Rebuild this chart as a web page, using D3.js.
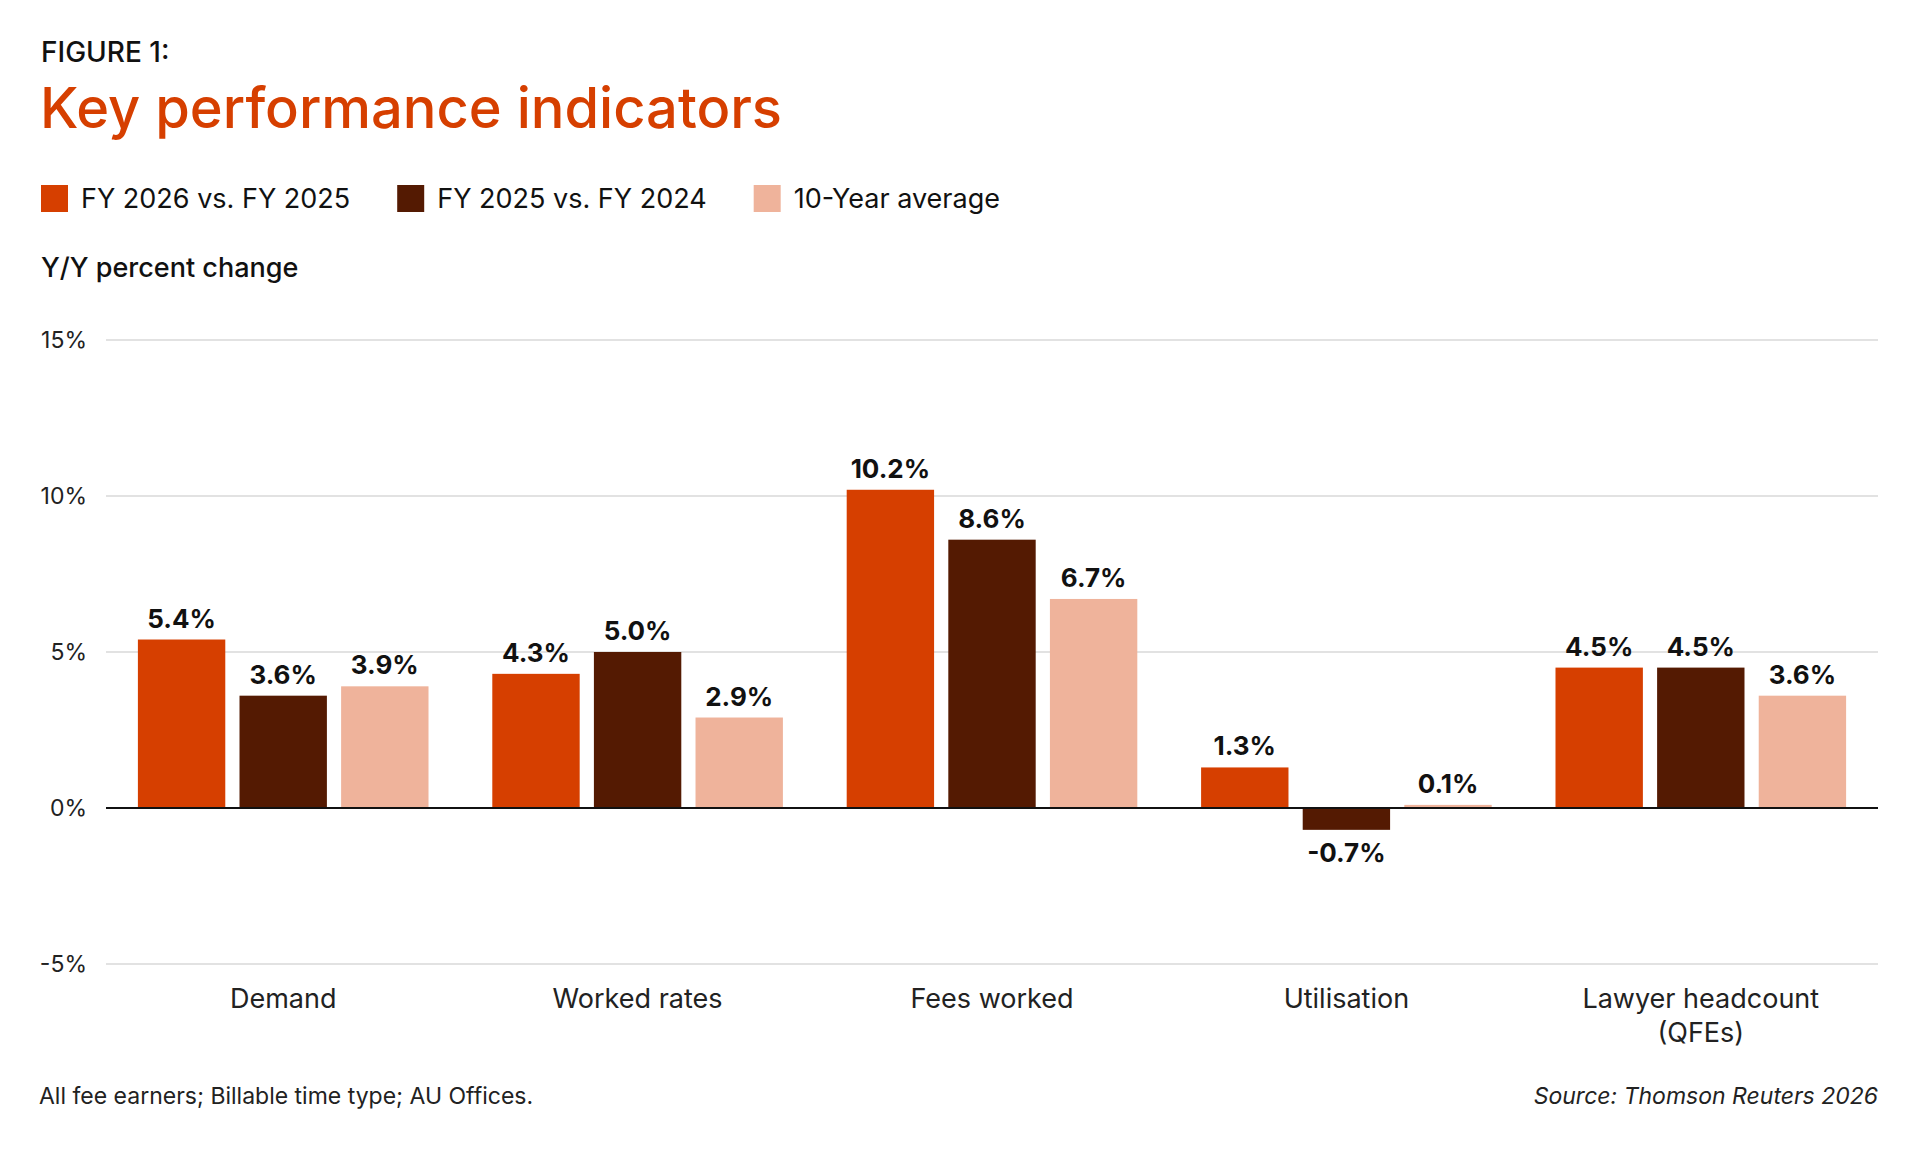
<!DOCTYPE html>
<html><head><meta charset="utf-8">
<script src="https://cdn.jsdelivr.net/npm/d3@7"></script>
<style>body{margin:0;background:#fff;font-family:Inter,"Noto Sans",sans-serif;}</style>
</head><body><svg id="svg" width="1920" height="1150"></svg>
<script>
const categories = ['Demand', 'Worked rates', 'Fees worked', 'Utilisation', 'Lawyer headcount|(QFEs)'];
const seriesNames = ['FY 2026 vs. FY 2025', 'FY 2025 vs. FY 2024', '10-Year average'];
const fy26 = [5.4, 4.3, 10.2, 1.3, 4.5];
const fy25 = [3.6, 5.0, 8.6, -0.7, 4.5];
const avg10 = [3.9, 2.9, 6.7, 0.1, 3.6];
const yTicks = [-5, 0, 5, 10, 15];
const colors = ['#d63f00', '#541a02', '#efb39b'];

const series = [fy26, fy25, avg10];
const svg = d3.select('#svg');
const plotLeft = 106, plotRight = 1878, plotTop = 340, plotBottom = 964;

svg.append('text').attr('x', 41).attr('y', 62).attr('font-size', 28).attr('font-weight', 500).attr('fill', '#111').text('FIGURE 1:');
svg.append('text').attr('x', 40).attr('y', 128).attr('font-size', 56).attr('font-weight', 500).attr('fill', '#d63f00').text('Key performance indicators');

const leg = svg.append('g');
let lx = 41;
seriesNames.forEach((s, i) => {
  leg.append('rect').attr('x', lx).attr('y', 185).attr('width', 27).attr('height', 27).attr('fill', colors[i]);
  const t = leg.append('text').attr('x', lx + 40).attr('y', 208).attr('font-size', 27).attr('fill', '#111').text(s);
  lx += 40 + t.node().getComputedTextLength() + 47;
});
svg.append('text').attr('x', 41).attr('y', 277).attr('font-size', 27).attr('font-weight', 500).attr('fill', '#111').text('Y/Y percent change');

const y = d3.scaleLinear().domain([-5, 15]).range([plotBottom, plotTop]);
const x0 = d3.scaleBand().domain(categories).range([plotLeft, plotRight]).paddingInner(0.18).paddingOuter(0.09);
const x1 = d3.scaleBand().domain(d3.range(3)).range([0, x0.bandwidth()]).paddingInner(0.14);

svg.append('g').selectAll('line').data(yTicks).join('line')
  .attr('x1', plotLeft).attr('x2', plotRight).attr('y1', d => y(d)).attr('y2', d => y(d))
  .attr('stroke', '#e2e2e2').attr('stroke-width', 2);
svg.append('g').selectAll('text').data(yTicks).join('text')
  .attr('x', 87).attr('y', d => y(d) + 8).attr('text-anchor', 'end').attr('font-size', 23).attr('fill', '#222')
  .text(d => d + '%');

const g = svg.append('g').selectAll('g').data(categories).join('g')
  .attr('transform', d => `translate(${x0(d)},0)`);
g.each(function (c, ci) {
  const gg = d3.select(this);
  series.forEach((s, si) => {
    const v = s[ci];
    gg.append('rect').attr('x', x1(si)).attr('width', x1.bandwidth())
      .attr('y', y(Math.max(0, v))).attr('height', Math.abs(y(v) - y(0))).attr('fill', colors[si]);
    gg.append('text').attr('x', x1(si) + x1.bandwidth() / 2)
      .attr('y', v >= 0 ? y(v) - 12 : y(v) + 32).attr('text-anchor', 'middle')
      .attr('font-size', 26).attr('font-weight', 700).attr('fill', '#111').text(v.toFixed(1) + '%');
  });
});
svg.append('line').attr('x1', plotLeft).attr('x2', plotRight).attr('y1', y(0)).attr('y2', y(0)).attr('stroke', '#111').attr('stroke-width', 2);

svg.append('g').selectAll('text').data(categories).join('text')
  .attr('x', d => x0(d) + x0.bandwidth() / 2).attr('y', 1008).attr('text-anchor', 'middle')
  .attr('font-size', 27).attr('fill', '#222')
  .each(function (d) {
    d.split('|').forEach((p, i) => d3.select(this).append('tspan').attr('x', x0(d) + x0.bandwidth() / 2).attr('dy', i ? 34 : 0).text(p));
  });

svg.append('text').attr('x', 39).attr('y', 1104).attr('font-size', 23).attr('fill', '#222').text('All fee earners; Billable time type; AU Offices.');
svg.append('text').attr('x', 1878).attr('y', 1104).attr('text-anchor', 'end').attr('font-size', 23).attr('font-style', 'italic').attr('fill', '#222').text('Source: Thomson Reuters 2026');
</script></body></html>
